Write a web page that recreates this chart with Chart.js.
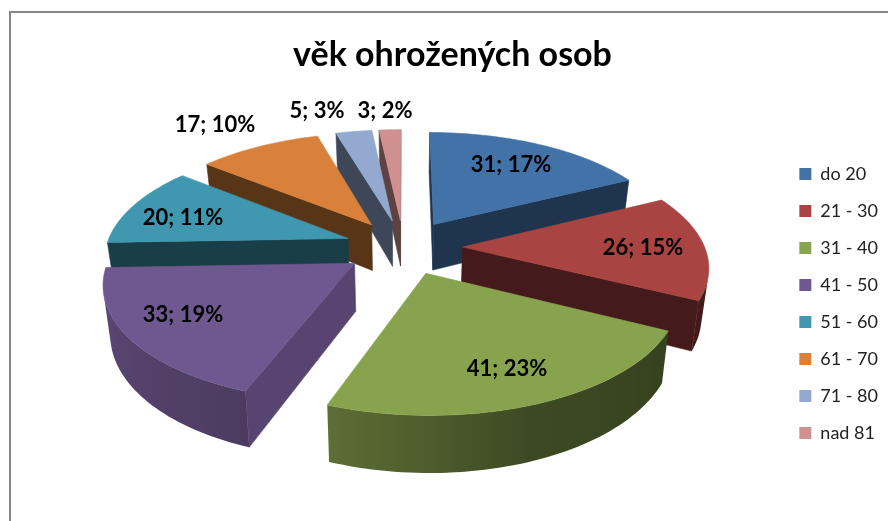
<!DOCTYPE html>
<html><head><meta charset="utf-8">
<style>html,body{margin:0;padding:0;background:#fff}canvas{display:block}</style>
<script src="https://cdn.jsdelivr.net/npm/chart.js@4"></script>
</head><body><canvas id="c" width="888" height="521"></canvas>
<script>
const categories = ['do 20','21 - 30','31 - 40','41 - 50','51 - 60','61 - 70','71 - 80','nad 81'];
const counts = [31,26,41,33,20,17,5,3];
const percents = [17,15,23,19,11,10,3,2];
const colors = ['#4372A8','#A94442','#87A34E','#6F578F','#3F98B0','#D9813A','#93A9CF','#D09090'];
const labelSpots = [[511,165],[643,248],[507,369],[183,315],[183,218],[215,125],[317,111],[385,111]];
const cutShade = [.46,.40,.42,.78,.41,.41,.42,.45];
const view = {cx:403.5, cy:247, rx:242, ry:112, k:.15, explode:.244, depth:47, shrink:.976};

function rgb(hex){return [1,3,5].map(i=>parseInt(hex.substr(i,2),16));}
function shade(hex,f){return 'rgb('+rgb(hex).map(c=>Math.round(c*f)).join(',')+')';}
function project(u,v,low){
  const s=1/(1-view.k*v);
  let x=view.rx*u*s, y=view.ry*v*s;
  if(low){x*=view.shrink; y+=view.depth*s;}
  return [view.cx+x,view.cy+y];
}
function wallShade(deg){ // clockwise-from-top degrees
  const pts=[[116,.40],[160,.45],[200,.68],[268,.85]];
  if(deg<=pts[0][0])return pts[0][1];
  for(let i=1;i<pts.length;i++){if(deg<=pts[i][0]){const a=pts[i-1],b=pts[i];return a[1]+(b[1]-a[1])*(deg-a[0])/(b[0]-a[0]);}}
  return .85;
}
function poly(ctx,pts,fill){
  ctx.beginPath();pts.forEach((p,i)=>i?ctx.lineTo(p[0],p[1]):ctx.moveTo(p[0],p[1]));ctx.closePath();
  ctx.fillStyle=fill;ctx.strokeStyle=fill;ctx.lineWidth=.6;ctx.fill();ctx.stroke();
}
function area(q){let a=0;q.forEach((p,i)=>{const n=q[(i+1)%q.length];a+=p[0]*n[1]-n[0]*p[1];});return a;}
function drawWall(ctx,run,hex){
  if(run.length<2)return;
  const tops=run.map(r=>project(r[0],r[1])), lows=run.map(r=>project(r[0],r[1],true));
  const x0=tops[0][0], x1=tops[tops.length-1][0];
  const g=ctx.createLinearGradient(x0,0,x1,0);
  run.forEach((r,j)=>{
    const t=Math.abs(x1-x0)<.01?0:Math.min(1,Math.max(0,(tops[j][0]-x0)/(x1-x0)));
    const deg=((r[2]+Math.PI/2)*180/Math.PI+360)%360;
    g.addColorStop(t,shade(hex,wallShade(deg)));
  });
  ctx.beginPath();
  tops.concat(lows.slice().reverse()).forEach((p,i)=>i?ctx.lineTo(p[0],p[1]):ctx.moveTo(p[0],p[1]));
  ctx.closePath();ctx.fillStyle=g;ctx.fill();
}

const pie3d = {
  id:'pie3d',
  beforeDraw(chart){
    const ctx=chart.ctx;ctx.save();ctx.strokeStyle='#868686';ctx.lineWidth=2;
    ctx.beginPath();ctx.moveTo(10,521);ctx.lineTo(10,12);ctx.lineTo(888,12);ctx.stroke();ctx.restore();
  },
  beforeDatasetDraw(chart,args){
    const ctx=chart.ctx, arcs=args.meta.data;
    const order=arcs.map((a,i)=>i).sort((p,q)=>{
      const m=a=>Math.sin((a.startAngle+a.endAngle)/2);return m(arcs[p])-m(arcs[q]);});
    ctx.save();
    order.forEach(i=>{
      const a=arcs[i], mid=(a.startAngle+a.endAngle)/2;
      const ox=Math.cos(mid)*view.explode, oy=Math.sin(mid)*view.explode;
      const n=Math.max(2,Math.ceil((a.endAngle-a.startAngle)/(Math.PI/120)));
      const ring=[];
      for(let j=0;j<=n;j++){const t=a.startAngle+(a.endAngle-a.startAngle)*j/n;ring.push([ox+Math.cos(t),oy+Math.sin(t),t]);}
      const tip=[ox,oy];
      const visible=(A,B)=>area([project(A[0],A[1]),project(B[0],B[1]),project(B[0],B[1],true),project(A[0],A[1],true)])<0;
      const cut=shade(colors[i],cutShade[i]);
      const flat=(A,B)=>{if(visible(A,B))poly(ctx,[project(A[0],A[1]),project(B[0],B[1]),project(B[0],B[1],true),project(A[0],A[1],true)],cut);};
      flat(tip,ring[0]);
      flat(ring[n],tip);
      let run=[];
      for(let j=0;j<n;j++){
        if(visible(ring[j],ring[j+1])){if(!run.length)run.push(ring[j]);run.push(ring[j+1]);}
        else{drawWall(ctx,run,colors[i]);run=[];}
      }
      drawWall(ctx,run,colors[i]);
      poly(ctx,[project(tip[0],tip[1])].concat(ring.map(r=>project(r[0],r[1]))),colors[i]);
    });
    ctx.restore();
    return false;
  },
  afterDatasetsDraw(chart){
    const ctx=chart.ctx;ctx.save();
    ctx.font='bold 22px Lato';ctx.fillStyle='#000';ctx.textAlign='center';ctx.textBaseline='middle';
    counts.forEach((c,i)=>ctx.fillText(c+'; '+percents[i]+'%',labelSpots[i][0],labelSpots[i][1]));
    ctx.restore();
  }
};

new Chart(document.getElementById('c'),{
  type:'pie',
  data:{labels:categories,datasets:[{data:counts,backgroundColor:colors,borderWidth:0}]},
  plugins:[pie3d],
  options:{
    responsive:false,animation:false,
    layout:{padding:{left:17,top:35,right:0,bottom:60}},
    plugins:{
      tooltip:{enabled:false},
      title:{display:true,text:'věk ohrožených osob',color:'#000',font:{family:'Lato',size:34,weight:'bold'},padding:{top:0,bottom:0}},
      legend:{position:'right',align:'end',labels:{boxWidth:12,boxHeight:12,padding:19,color:'#222',font:{family:'Lato',size:18}}}
    }
  }
});
</script></body></html>
